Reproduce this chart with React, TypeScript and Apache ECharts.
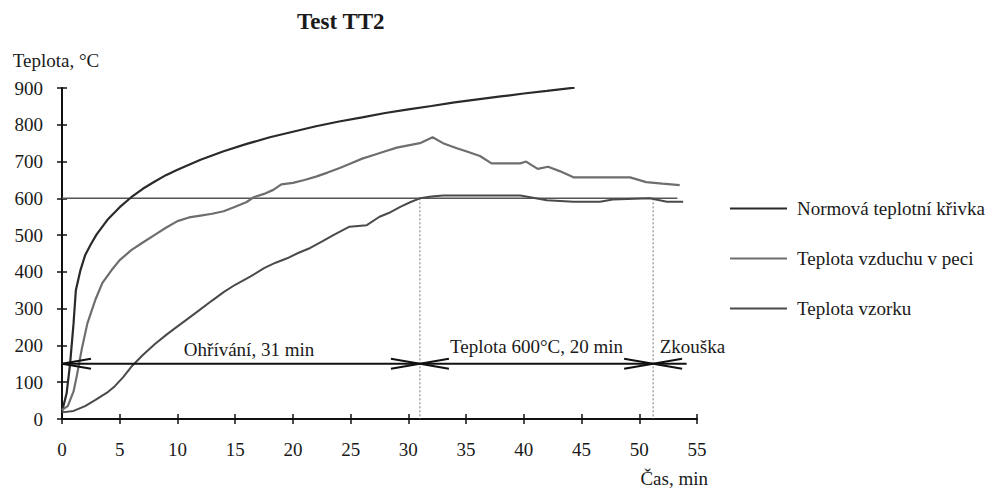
import React, { useEffect, useRef } from "react";
import * as echarts from "echarts";

// ---- data ----
const normTime = [0, 0.4, 0.7, 1.0, 1.2, 1.6, 2.0, 2.5, 3, 4, 5, 6, 7, 8, 9, 10, 12, 14, 16, 18, 20, 22, 24, 26, 28, 30, 32, 34, 36, 38, 40, 42, 44.4];
const normTemp = [20, 70, 150, 260, 350, 405, 445, 475, 502, 544, 576, 603, 626, 645, 663, 678, 705, 728, 748, 766, 781, 796, 809, 820, 832, 842, 851, 861, 869, 877, 885, 892, 901];

const airTime = [0, 0.5, 1, 1.3, 1.7, 2.2, 2.9, 3.5, 4.3, 5, 6, 7, 8, 9, 10, 11, 12, 13, 14, 15, 16, 16.6, 17.5, 18.3, 19, 20, 21, 22, 23, 24, 25, 26, 27, 28, 29, 30, 31, 32.1, 33, 34.2, 35, 36.2, 37.2, 39.7, 40.2, 41.2, 42.1, 43.1, 44.3, 49.2, 50.6, 52, 53.5];
const airTemp = [25, 35, 75, 120, 188, 260, 325, 370, 405, 432, 459, 480, 500, 520, 538, 548, 553, 558, 565, 577, 590, 603, 612, 623, 638, 642, 650, 659, 670, 682, 695, 708, 718, 728, 738, 744, 750, 766, 750, 736, 728, 715, 695, 695, 700, 680, 686, 674, 657, 657, 644, 640, 636];

const sampleTime = [0, 1, 2, 2.9, 4, 4.6, 5.3, 6, 7, 8.05, 9, 9.8, 11, 11.9, 13, 14, 15, 16.3, 17.5, 18.5, 19.5, 20.5, 21.5, 22.5, 23.5, 24.9, 26.4, 27.5, 28.3, 29.3, 30.2, 31, 32, 33, 39.7, 42, 44.3, 46.6, 47.7, 50.9, 52.4, 53.8];
const sampleTemp = [18, 22, 35, 52, 74, 90, 114, 142, 174, 204, 228, 247, 275, 296, 322, 345, 365, 387, 410, 425, 437, 452, 465, 482, 500, 523, 527, 550, 560, 577, 590, 600, 605, 608, 608, 595, 591, 591, 597, 600, 591, 591];

const seriesNames = ["Normová teplotní křivka", "Teplota vzduchu v peci", "Teplota vzorku"];

const holdLevel = 600;
const holdLineEnd = 53.3;
const phaseBounds = [31, 51.2];
const arrowLevel = 150;
const arrowLineEnd = 54.1;
// [time, direction] (+1 = "<" opening right, -1 = ">" opening left)
const arrowHeads = [[0, 1], [31, -1], [31, 1], [51.2, -1], [51.2, 1]];
const phaseLabels = ["Ohřívání, 31 min", "Teplota 600°C, 20 min", "Zkouška"];
const phaseLabelPos = [[16.2, 188], [41.1, 198], [54.6, 198]];

const xTicks = { min: 0, max: 55, interval: 5 };
const yTicks = { min: 0, max: 900, interval: 100 };

const FONT = "'Liberation Serif', 'Times New Roman', serif";
const TEXT = "#1a1a1a";

const zip = (a: number[], b: number[]) => a.map((t, i) => [t, b[i]]);

export default function App() {
  const ref = useRef<HTMLDivElement>(null);
  useEffect(() => {
    if (!ref.current) return;
    const chart = echarts.init(ref.current, undefined, { renderer: "svg" });
    const axisLine = { show: true, lineStyle: { color: "#111", width: 2 } };
    chart.setOption({
      animation: false,
      textStyle: { fontFamily: FONT },
      title: {
        text: "Test TT2",
        left: 297,
        top: 10,
        padding: 0,
        textStyle: { fontFamily: FONT, fontSize: 23, fontWeight: "bold", color: TEXT },
      },
      legend: {
        orient: "vertical",
        left: 725,
        top: 194,
        itemWidth: 57,
        itemHeight: 2,
        itemGap: 31,
        icon: "rect",
        data: seriesNames,
        textStyle: { fontFamily: FONT, fontSize: 19, color: TEXT, padding: [0, 0, 0, 5] },
      },
      grid: { left: 62, top: 88, right: 297, bottom: 70 },
      xAxis: [
        {
          type: "value",
          ...xTicks,
          position: "bottom",
          name: "Čas, min",
          nameLocation: "end",
          nameGap: 11,
          nameTextStyle: { fontFamily: FONT, fontSize: 19, color: TEXT, align: "right", verticalAlign: "top", padding: [50, 0, 0, 0] },
          axisLine,
          axisTick: { show: true, length: 5, lineStyle: { color: "#111", width: 1.5 } },
          axisLabel: { fontFamily: FONT, fontSize: 19, color: TEXT, margin: 21 },
          splitLine: { show: false },
        },
        {
          type: "value",
          ...xTicks,
          position: "bottom",
          offset: 0,
          axisLine: { show: false },
          axisTick: { show: true, inside: true, length: 5, lineStyle: { color: "#111", width: 1.5 } },
          axisLabel: { show: false },
          splitLine: { show: false },
        },
      ],
      yAxis: [
        {
          type: "value",
          ...yTicks,
          position: "left",
          name: "Teplota, °C",
          nameLocation: "end",
          nameGap: 28,
          nameTextStyle: { fontFamily: FONT, fontSize: 19, color: TEXT, align: "center", verticalAlign: "middle", padding: [0, 12, 0, 0] },
          axisLine,
          axisTick: { show: true, length: 5, lineStyle: { color: "#111", width: 1.5 } },
          axisLabel: { fontFamily: FONT, fontSize: 19, color: TEXT, margin: 19 },
          splitLine: { show: false },
        },
        {
          type: "value",
          ...yTicks,
          position: "left",
          offset: 0,
          axisLine: { show: false },
          axisTick: { show: true, inside: true, length: 5, lineStyle: { color: "#111", width: 1.5 } },
          axisLabel: { show: false },
          splitLine: { show: false },
        },
      ],
      series: [
        {
          name: "hold600",
          type: "line",
          data: [[0, holdLevel], [holdLineEnd, holdLevel]],
          symbol: "none",
          lineStyle: { color: "#555", width: 1.5 },
          z: 1,
        },
        ...phaseBounds.map((t, i) => ({
          name: "bound" + i,
          type: "line",
          data: [[t, holdLevel], [t, 0]],
          symbol: "none",
          lineStyle: { color: "#777", width: 1, type: [2, 2] },
          z: 1,
        })),
        {
          name: seriesNames[0],
          type: "line",
          data: zip(normTime, normTemp),
          symbol: "none",
          color: "#2a2a2a",
          lineStyle: { color: "#2a2a2a", width: 2.2 },
          z: 3,
        },
        {
          name: seriesNames[1],
          type: "line",
          data: zip(airTime, airTemp),
          symbol: "none",
          color: "#6e6e6e",
          lineStyle: { color: "#6e6e6e", width: 2.2 },
          z: 3,
        },
        {
          name: seriesNames[2],
          type: "line",
          data: zip(sampleTime, sampleTemp),
          symbol: "none",
          color: "#4a4a4a",
          lineStyle: { color: "#4a4a4a", width: 2 },
          z: 3,
        },
        {
          name: "arrowLine",
          type: "line",
          data: [[0, arrowLevel], [arrowLineEnd, arrowLevel]],
          symbol: "none",
          lineStyle: { color: "#111", width: 2 },
          z: 4,
        },
        {
          name: "arrowHeads",
          type: "custom",
          clip: false,
          z: 5,
          data: arrowHeads,
          renderItem: (_p: any, api: any) => {
            const t = api.value(0);
            const dir = api.value(1);
            const p = api.coord([t, arrowLevel]);
            return {
              type: "polyline",
              shape: { points: [[p[0] + dir * 29, p[1] - 5], [p[0], p[1]], [p[0] + dir * 29, p[1] + 5]] },
              style: { stroke: "#111", lineWidth: 2, fill: "none" },
            };
          },
        },
        {
          name: "phaseLabels",
          type: "custom",
          clip: false,
          z: 5,
          data: phaseLabelPos.map((p, i) => [p[0], p[1], i]),
          renderItem: (_p: any, api: any) => {
            const p = api.coord([api.value(0), api.value(1)]);
            const idx = api.value(2);
            return {
              type: "text",
              x: p[0],
              y: p[1],
              style: {
                text: phaseLabels[idx],
                fontFamily: FONT,
                fontSize: 19,
                fill: TEXT,
                align: "center",
                verticalAlign: "middle",
              },
            };
          },
        },
      ],
    });
    return () => chart.dispose();
  }, []);
  return <div ref={ref} style={{ position: "fixed", left: 0, top: 0, width: 994, height: 489, background: "#fff" }} />;
}
